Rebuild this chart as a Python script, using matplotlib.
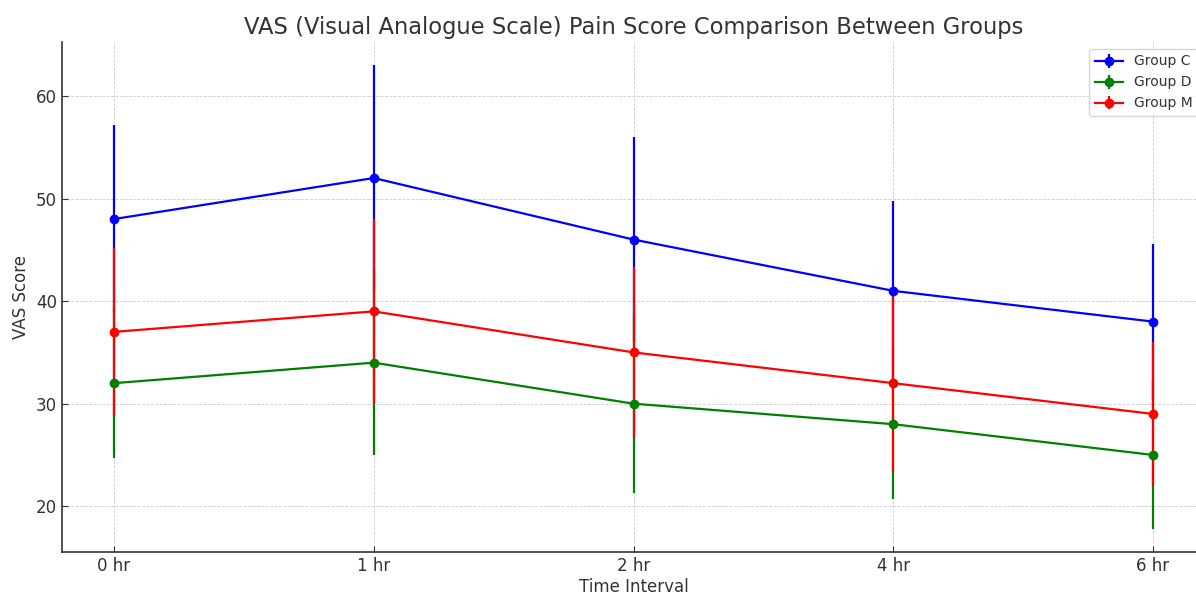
import matplotlib
matplotlib.use("Agg")
import matplotlib.pyplot as plt

times = ["0 hr", "1 hr", "2 hr", "4 hr", "6 hr"]
group_c = [48, 52, 46, 41, 38]
group_c_err = [9.2, 11, 10, 8.8, 7.6]
group_d = [32, 34, 30, 28, 25]
group_d_err = [7.3, 9, 8.7, 7.3, 7.2]
group_m = [37, 39, 35, 32, 29]
group_m_err = [8.2, 9, 8.3, 8.6, 7]

text_col = "#333333"
plt.rcParams.update({
    "font.family": "DejaVu Sans",
    "text.color": text_col,
    "axes.labelcolor": text_col,
    "xtick.color": text_col,
    "ytick.color": text_col,
    "xtick.direction": "in",
    "ytick.direction": "in",
})

fig = plt.figure(figsize=(11.96, 5.94), dpi=100)
ax = fig.add_axes([62/1196, 42/594, 1143/1196, 510/594])

x = list(range(len(times)))
ax.errorbar(x, group_c, yerr=group_c_err, fmt="-o", color="blue", label="Group C",
            markersize=6, linewidth=1.6, elinewidth=1.6)
ax.errorbar(x, group_d, yerr=group_d_err, fmt="-o", color="green", label="Group D",
            markersize=6, linewidth=1.6, elinewidth=1.6)
ax.errorbar(x, group_m, yerr=group_m_err, fmt="-o", color="red", label="Group M",
            markersize=6, linewidth=1.6, elinewidth=1.6)

ax.set_xticks(x)
ax.set_xticklabels(times)
ax.tick_params(labelsize=12, length=4)
ax.set_title("VAS (Visual Analogue Scale) Pain Score Comparison Between Groups",
             fontsize=16.3, pad=6)
ax.set_xlabel("Time Interval", fontsize=12, labelpad=2)
ax.set_ylabel("VAS Score", fontsize=12)
ax.grid(True, linestyle="--", linewidth=0.6, color="#cccccc")
ax.spines["top"].set_visible(False)
ax.spines["right"].set_visible(False)
for s in ("left", "bottom"):
    ax.spines[s].set_color("#333333")
    ax.spines[s].set_linewidth(1.2)
ax.legend(loc="upper right", fontsize=10)

fig.savefig("out.png", dpi=100)
